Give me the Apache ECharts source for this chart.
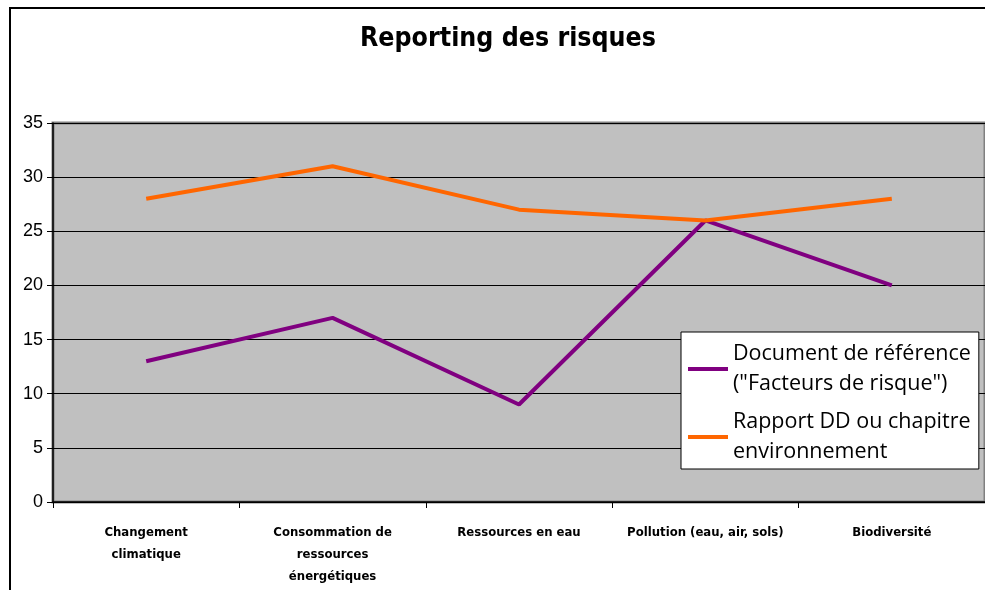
<!DOCTYPE html>
<html>
<head>
<meta charset="utf-8">
<script src="https://cdn.jsdelivr.net/npm/echarts@6/dist/echarts.min.js"></script>
<style>
  html, body { margin: 0; padding: 0; background: #fff; }
  #chart { width: 985px; height: 590px; }
</style>
</head>
<body>
<div id="chart"></div>
<script>
const categories = [
  'Changement\nclimatique',
  'Consommation de\nressources\nénergétiques',
  'Ressources en eau',
  'Pollution (eau, air, sols)',
  'Biodiversité'
];
const docReference = [13, 17, 9, 26, 20];
const rapportDD = [28, 31, 27, 26, 28];
const seriesNames = [
  'Document de référence\n("Facteurs de risque")',
  'Rapport DD ou chapitre\nenvironnement'
];

const narrow = '"DejaVu Sans Condensed", "Liberation Sans", sans-serif';

const chart = echarts.init(document.getElementById('chart'));

chart.setOption({
  backgroundColor: '#fff',
  animation: false,
  title: {
    text: 'Reporting des risques',
    left: 355,
    top: 21,
    textStyle: {
      fontFamily: narrow,
      fontWeight: 'bold',
      fontSize: 26.5,
      color: '#000'
    }
  },
  graphic: [{
    type: 'rect',
    z: -1,
    shape: { x: 10, y: 8, width: 1000, height: 620 },
    style: { fill: 'none', stroke: '#000', lineWidth: 2 }
  }],
  color: ['#800080', '#FF6600'],
  grid: {
    left: 53,
    right: -13,
    top: 123,
    bottom: 88,
    show: true,
    backgroundColor: '#C0C0C0',
    borderColor: '#808080',
    borderWidth: 3
  },
  legend: {
    orient: 'vertical',
    left: 681,
    top: 332,
    itemWidth: 40,
    itemHeight: 4,
    itemGap: 8,
    padding: [7, 8, 2, 7],
    backgroundColor: '#fff',
    borderColor: '#000',
    borderWidth: 1,
    icon: 'rect',
    textStyle: {
      fontFamily: 'Open Sans',
      fontSize: 21.5,
      lineHeight: 30,
      color: '#000'
    },
    data: seriesNames
  },
  xAxis: {
    type: 'category',
    data: categories,
    boundaryGap: true,
    axisLine: { lineStyle: { color: '#000', width: 1.5 } },
    axisTick: { show: true, length: 6, lineStyle: { color: '#000' } },
    axisLabel: {
      interval: 0,
      margin: 20,
      fontFamily: narrow,
      fontWeight: 'bold',
      fontSize: 13,
      lineHeight: 22,
      color: '#000'
    },
    splitLine: { show: false }
  },
  yAxis: {
    type: 'value',
    min: 0,
    max: 35,
    interval: 5,
    axisLine: { show: true, lineStyle: { color: '#000', width: 1.5 } },
    axisTick: { show: true, length: 6, lineStyle: { color: '#000' } },
    axisLabel: {
      margin: 10,
      fontFamily: 'Liberation Sans',
      fontSize: 18,
      color: '#000'
    },
    splitLine: { lineStyle: { color: '#000', width: 1 } }
  },
  series: [
    {
      name: seriesNames[0],
      type: 'line',
      data: docReference,
      symbol: 'none',
      lineStyle: { width: 4 }
    },
    {
      name: seriesNames[1],
      type: 'line',
      data: rapportDD,
      symbol: 'none',
      lineStyle: { width: 4 }
    }
  ]
});
</script>
</body>
</html>
